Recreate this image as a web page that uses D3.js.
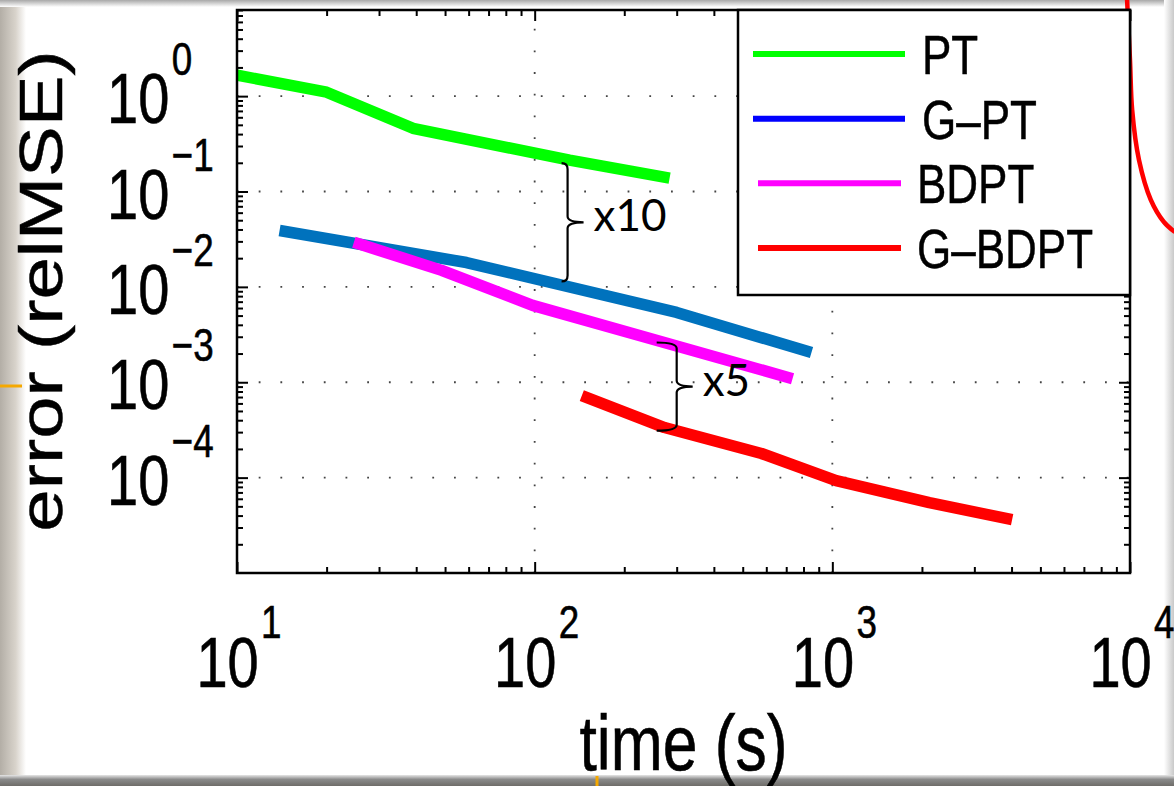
<!DOCTYPE html>
<html>
<head>
<meta charset="utf-8">
<script src="https://cdn.jsdelivr.net/npm/d3@7"></script>
<style>
  body { margin: 0; background: #fff; overflow: hidden; }
  svg { display: block; }
</style>
</head>
<body>
<div id="chart"></div>
<script>
// values (time in s, error as relMSE)
const seriesNames = ["PT", "G\u2013PT", "BDPT", "G\u2013BDPT"];
const ptTime = [10, 20, 39, 131, 284];
const ptError = [1.66, 1.1, 0.46, 0.213, 0.138];
const gptTime = [13.9, 59, 300, 851];
const gptError = [0.039, 0.018, 0.0054, 0.00205];
const bdptTime = [24.7, 48.7, 98.4, 735];
const bdptError = [0.0293, 0.0149, 0.0064, 0.00109];
const gbdptTime = [144, 273, 578, 1030, 2118, 4018];
const gbdptError = [7.26e-4, 3.35e-4, 1.79e-4, 9.3e-5, 5.47e-5, 3.62e-5];

const xTicks = [10, 100, 1000, 10000];
const yTicks = [1, 0.1, 0.01, 0.001, 0.0001];

// the two brace annotations (time = position of the brace spine)
const braceTime = [129, 300];
const braceTop = [0.198, 0.00261];
const braceBottom = [0.0114, 3.11e-4];
const braceLabels = ["x10", "x5"];

// leftover curve of the slide behind the figure
const bgTime = [9770, 10000, 10170, 10720, 11750, 13000, 14150];
const bgError = [10.7, 2.39, 0.716, 0.214, 0.0815, 0.0479, 0.0376];

const lineColors = ["#00ff00", "#0072bd", "#ff00ff", "#ff0000"];
const legendColors = ["#00ff00", "#0000ff", "#ff00ff", "#ff0000"];
const braceHooks = [6, 20];

const width = 1174, height = 786;
const box = { left: 237, right: 1130, top: 10, bottom: 573 };
const squeeze = 0.8; // the source picture is narrowed horizontally

const svg = d3.select("#chart").append("svg")
    .attr("width", width)
    .attr("height", height)
    .style("font-family", "'Liberation Sans', Arial, sans-serif");

const x = d3.scaleLog().domain([10, 10000]).range([box.left, box.right]);
const y = d3.scaleLog().domain([1e-5, 8]).range([box.bottom, box.top]);

// ---- page edges (scan of a slide) ----
const defs = svg.append("defs");
const gl = defs.append("linearGradient").attr("id", "leftEdge");
gl.append("stop").attr("offset", 0).attr("stop-color", "#b3aea6");
gl.append("stop").attr("offset", 0.6).attr("stop-color", "#d8d3cb");
gl.append("stop").attr("offset", 1).attr("stop-color", "#ffffff");
const gb = defs.append("linearGradient").attr("id", "bottomEdge").attr("x1", 0).attr("x2", 0).attr("y1", 0).attr("y2", 1);
gb.append("stop").attr("offset", 0).attr("stop-color", "#e6e6e6");
gb.append("stop").attr("offset", 0.4).attr("stop-color", "#8a8a8a");
gb.append("stop").attr("offset", 1).attr("stop-color", "#6f6d69");
const gt = defs.append("linearGradient").attr("id", "topEdge").attr("x1", 0).attr("x2", 0).attr("y1", 0).attr("y2", 1);
gt.append("stop").attr("offset", 0).attr("stop-color", "#a8a8a8");
gt.append("stop").attr("offset", 1).attr("stop-color", "#ffffff");
const gr = defs.append("linearGradient").attr("id", "rightEdge");
gr.append("stop").attr("offset", 0).attr("stop-color", "#ffffff");
gr.append("stop").attr("offset", 1).attr("stop-color", "#c9c9c9");

svg.append("rect").attr("x", 0).attr("y", 0).attr("width", 26).attr("height", height).attr("fill", "url(#leftEdge)");
svg.append("rect").attr("x", 0).attr("y", 0).attr("width", width).attr("height", 7).attr("fill", "url(#topEdge)");
svg.append("rect").attr("x", 1164).attr("y", 0).attr("width", 10).attr("height", height).attr("fill", "url(#rightEdge)");
svg.append("rect").attr("x", 0).attr("y", 775).attr("width", width).attr("height", 11).attr("fill", "url(#bottomEdge)");
svg.append("line").attr("x1", 0).attr("x2", 22).attr("y1", 386).attr("y2", 386)
    .attr("stroke", "#f5a800").attr("stroke-width", 3);
svg.append("line").attr("x1", 597).attr("x2", 597).attr("y1", 776).attr("y2", 786)
    .attr("stroke", "#f5a800").attr("stroke-width", 3);

svg.append("path")
    .attr("d", d3.line().curve(d3.curveCatmullRom)
        .x(d => x(d)).y((d, i) => y(bgError[i]))(bgTime))
    .attr("fill", "none")
    .attr("stroke", "#ff0000")
    .attr("stroke-width", 4.5);

// ---- plot area ----
svg.append("rect")
    .attr("x", box.left).attr("y", box.top)
    .attr("width", box.right - box.left).attr("height", box.bottom - box.top)
    .attr("fill", "#fff");

// dotted grid on the decades
const grid = svg.append("g")
    .attr("stroke", "#444")
    .attr("stroke-width", 1.8)
    .attr("stroke-dasharray", "1.8,19.9");
grid.selectAll(".gx").data(xTicks.filter(v => v > 10 && v < 10000)).join("line")
    .attr("x1", d => x(d)).attr("x2", d => x(d))
    .attr("y1", box.bottom).attr("y2", box.top);
grid.selectAll(".gy").data(yTicks).join("line")
    .attr("x1", box.left).attr("x2", box.right)
    .attr("y1", d => y(d)).attr("y2", d => y(d));

// ---- series ----
const series = [
    { name: seriesNames[0], t: ptTime, e: ptError },
    { name: seriesNames[1], t: gptTime, e: gptError },
    { name: seriesNames[2], t: bdptTime, e: bdptError },
    { name: seriesNames[3], t: gbdptTime, e: gbdptError },
];

const line = d3.line()
    .x(d => x(d[0]))
    .y(d => y(d[1]));

svg.append("g").selectAll("path")
    .data(series)
    .join("path")
    .attr("d", s => line(s.t.map((t, i) => [t, s.e[i]])))
    .attr("fill", "none")
    .attr("stroke", (s, i) => lineColors[i])
    .attr("stroke-width", 11.5)
    .attr("stroke-linejoin", "round")
    .attr("stroke-linecap", "butt");

// ---- braces ----
bracePath = (xs, yT, yB, hook) => {
    const r = 6, tip = 16, ym = (yT + yB) / 2, x0 = xs - hook;
    return `M${x0},${yT} Q${xs},${yT} ${xs},${yT + r} L${xs},${ym - r} ` +
        `Q${xs},${ym} ${xs + tip},${ym} Q${xs},${ym} ${xs},${ym + r} ` +
        `L${xs},${yB - r} Q${xs},${yB} ${x0},${yB}`;
}
braceTime.forEach((t, i) => {
    const xs = x(t), yT = y(braceTop[i]), yB = y(braceBottom[i]);
    svg.append("path")
        .attr("d", bracePath(xs, yT, yB, braceHooks[i]))
        .attr("fill", "none")
        .attr("stroke", "#000")
        .attr("stroke-width", 2.2);
    svg.append("text")
        .attr("x", xs + 26)
        .attr("y", (yT + yB) / 2 + 9)
        .attr("font-family", "Lato, 'Open Sans', sans-serif")
        .attr("font-size", 44)
        .attr("fill", "#000")
        .text(braceLabels[i]);
});

// ---- axes: ticks pointing inwards on all four sides ----
const minorX = d3.range(1, 4).flatMap(p => d3.range(2, 10).map(k => k * 10 ** p));
const minorY = d3.range(-5, 1).flatMap(p => d3.range(2, 10).map(k => k * 10 ** p)).filter(v => v <= 8);

drawTicks = (axisFn, scale, values, size, transform) => {
    svg.append("g")
        .attr("transform", transform)
        .call(axisFn(scale).tickValues(values).tickSize(size).tickFormat(""))
        .call(g => g.select(".domain").remove())
        .selectAll("line").attr("stroke", "#000").attr("stroke-width", 2);
}
drawTicks(d3.axisBottom, x, xTicks, -11, `translate(0,${box.bottom})`);
drawTicks(d3.axisBottom, x, minorX, -6, `translate(0,${box.bottom})`);
drawTicks(d3.axisTop, x, xTicks, -11, `translate(0,${box.top})`);
drawTicks(d3.axisTop, x, minorX, -6, `translate(0,${box.top})`);
drawTicks(d3.axisLeft, y, yTicks, -11, `translate(${box.left},0)`);
drawTicks(d3.axisLeft, y, minorY, -6, `translate(${box.left},0)`);
drawTicks(d3.axisRight, y, yTicks, -11, `translate(${box.right},0)`);
drawTicks(d3.axisRight, y, minorY, -6, `translate(${box.right},0)`);

svg.append("rect")
    .attr("x", box.left).attr("y", box.top)
    .attr("width", box.right - box.left).attr("height", box.bottom - box.top)
    .attr("fill", "none")
    .attr("stroke", "#000")
    .attr("stroke-width", 2.5);

// ---- tick labels 10^n ----
expText = v => {
    const p = Math.round(Math.log10(v));
    return p < 0 ? "\u2212" + Math.abs(p) : String(p);
}

const xl = svg.append("g").selectAll("text")
    .data(xTicks)
    .join("text")
    .attr("transform", d => `translate(${x(d) + 2},687) scale(${squeeze},1)`)
    .attr("text-anchor", "middle")
    .attr("fill", "#000")
    .attr("stroke", "#000")
    .attr("stroke-width", 0.6);
xl.append("tspan").attr("font-size", 70).text("10");
xl.append("tspan").attr("font-size", 46).attr("dx", 3).attr("dy", -49).text(d => expText(d));

const yl = svg.append("g").selectAll("text")
    .data(yTicks)
    .join("text")
    .attr("transform", d => `translate(107,${y(d) + 27}) scale(${squeeze},1)`)
    .attr("text-anchor", "start")
    .attr("fill", "#000")
    .attr("stroke", "#000")
    .attr("stroke-width", 0.6);
yl.append("tspan").attr("font-size", 70).text("10");
yl.append("tspan").attr("font-size", 46).attr("dx", 3).attr("dy", -48).text(d => expText(d));

// ---- axis titles ----
svg.append("text")
    .attr("transform", `translate(${(box.left + box.right) / 2},770) scale(${squeeze},1)`)
    .attr("text-anchor", "middle")
    .attr("font-size", 78)
    .attr("fill", "#000")
    .attr("stroke", "#000")
    .attr("stroke-width", 0.6)
    .text("time (s)");

svg.append("text")
    .attr("transform", `translate(62,291) scale(${squeeze},1) rotate(-90)`)
    .attr("text-anchor", "middle")
    .attr("font-size", 76)
    .attr("fill", "#000")
    .attr("stroke", "#000")
    .attr("stroke-width", 0.6)
    .text("error (relMSE)");

// ---- legend ----
const legend = { left: 738, top: 10, right: box.right, bottom: 295 };
svg.append("rect")
    .attr("x", legend.left).attr("y", legend.top)
    .attr("width", legend.right - legend.left).attr("height", legend.bottom - legend.top)
    .attr("fill", "#fff")
    .attr("stroke", "#000")
    .attr("stroke-width", 2.5);

const rowY = d3.scalePoint().domain(seriesNames).range([54, 248]);
const items = svg.append("g").selectAll("g")
    .data(seriesNames)
    .join("g")
    .attr("transform", d => `translate(0,${rowY(d)})`);
items.append("line")
    .attr("x1", (d, i) => i < 2 ? 753 : 758)
    .attr("x2", (d, i) => i < 2 ? 905 : 901)
    .attr("stroke", (d, i) => legendColors[i])
    .attr("stroke-width", 6);
items.append("text")
    .attr("transform", (d, i) => `translate(${i < 2 ? 922 : 917},20) scale(${squeeze},1)`)
    .attr("font-size", 55)
    .attr("fill", "#000")
    .attr("stroke", "#000")
    .attr("stroke-width", 0.5)
    .text(d => d);
</script>
</body>
</html>
